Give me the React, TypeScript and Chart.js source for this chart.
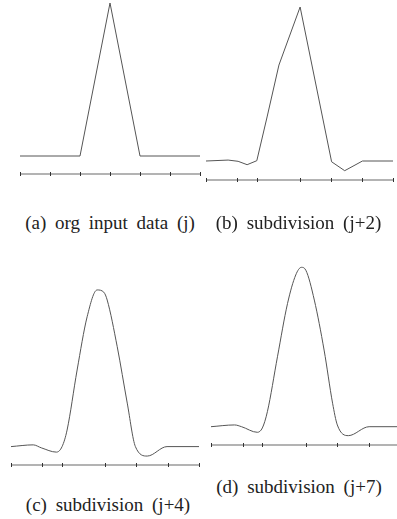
import React, { useEffect, useRef } from "react";
import { Chart, registerables } from "chart.js";
Chart.register(...registerables);

// ---- data ----
const TICKS_A = [0, 1, 2, 3, 4, 5, 6];
const TICKS_BCD = [0, 1, 1.63, 3, 4, 5, 6];

const A_X = [0, 2, 3, 4, 6];
const A_Y = [0, 0, 1, 0, 0];

const B_X = [0, 0.71, 1.03, 1.32, 1.63, 1.96, 2.34, 3.02, 4.03, 4.45, 5.02, 6];
const B_Y = [0, 0.006, -0.002, -0.024, 0.002, 0.286, 0.623, 1, -0.005, -0.063, 0, 0];

const C_X = [0, 0.71, 0.97, 1.45, 1.63, 1.79, 2.11, 2.43, 2.75, 2.96, 3.07, 3.39, 3.71, 3.97, 4.35, 4.98, 6];
const C_Y = [0, 0.011, -0.008, -0.035, 0, 0.105, 0.486, 0.824, 0.994, 0.98, 0.93, 0.634, 0.276, 0, -0.06, 0, 0];

const D_X = [0, 0.75, 0.97, 1.47, 1.63, 1.79, 2.11, 2.43, 2.69, 2.87, 3.01, 3.28, 3.59, 3.86, 4.01, 4.36, 5.02, 6];
const D_Y = [0, 0.011, 0, -0.035, -0.008, 0.094, 0.438, 0.772, 0.95, 0.998, 0.98, 0.793, 0.48, 0.147, 0.011, -0.056, 0, 0];

const CAPTIONS = [
  "(a) org input data (j)",
  "(b) subdivision (j+2)",
  "(c) subdivision (j+4)",
  "(d) subdivision (j+7)",
];

const axisPlugin = {
  id: "tickAxis",
  afterDraw(chart: any, _args: any, opts: any) {
    const { ctx, chartArea } = chart;
    const x = chart.scales.x;
    const y = chartArea.bottom;
    ctx.save();
    ctx.strokeStyle = "#9a9a9a";
    ctx.lineWidth = 1.5;
    ctx.beginPath();
    ctx.moveTo(x.getPixelForValue(x.min), y);
    ctx.lineTo(x.getPixelForValue(x.max), y);
    ctx.stroke();
    ctx.strokeStyle = "#333";
    ctx.lineWidth = 1;
    for (const t of opts.ticks || []) {
      const px = Math.round(x.getPixelForValue(t)) + 0.5;
      ctx.beginPath();
      ctx.moveTo(px, y - 2);
      ctx.lineTo(px, y + 2);
      ctx.stroke();
    }
    ctx.restore();
  },
};

type PanelProps = {
  xs: number[];
  ys: number[];
  ticks: number[];
  x0: number;
  x1: number;
  yTop: number;
  yBase: number;
  yAxis: number;
  smooth: boolean;
};

const PAD = 6;

function Panel(p: PanelProps) {
  const ref = useRef<HTMLCanvasElement>(null);
  const W = p.x1 - p.x0 + 2 * PAD;
  const H = p.yAxis - p.yTop + 2 * PAD;
  useEffect(() => {
    if (!ref.current) return;
    const yMin = -(p.yAxis - p.yBase) / (p.yBase - p.yTop);
    const chart = new Chart(ref.current, {
      type: "line",
      data: {
        datasets: [
          {
            data: p.xs.map((x, i) => ({ x, y: p.ys[i] })),
            borderColor: "#555",
            borderWidth: 1,
            pointRadius: 0,
            tension: p.smooth ? 0.4 : 0,
            cubicInterpolationMode: p.smooth ? "monotone" : "default",
            fill: false,
            clip: false as any,
          },
        ],
      },
      options: {
        animation: false,
        responsive: false,
        maintainAspectRatio: false,
        events: [],
        layout: { padding: PAD },
        plugins: {
          legend: { display: false },
          tooltip: { enabled: false },
          tickAxis: { ticks: p.ticks },
        } as any,
        scales: {
          x: { type: "linear", min: 0, max: 6, display: false },
          y: { type: "linear", min: yMin, max: 1, display: false },
        },
      },
      plugins: [axisPlugin as any],
    });
    return () => chart.destroy();
  }, []);
  return (
    <canvas
      ref={ref}
      width={W}
      height={H}
      style={{
        position: "absolute",
        left: p.x0 - PAD,
        top: p.yTop - PAD,
        width: W,
        height: H,
      }}
    />
  );
}

function Caption({ text, cx, cy }: { text: string; cx: number; cy: number }) {
  return (
    <div
      style={{
        position: "absolute",
        left: cx,
        top: cy - 11,
        transform: "translateX(-50%)",
        fontFamily: '"Liberation Serif", serif',
        fontSize: 19,
        lineHeight: "22px",
        wordSpacing: 4,
        whiteSpace: "nowrap",
        color: "#222",
      }}
    >
      {text}
    </div>
  );
}

export default function App() {
  return (
    <div
      style={{
        position: "fixed",
        left: 0,
        top: 0,
        width: 397,
        height: 519,
        overflow: "hidden",
        background: "#fff",
      }}
    >
      <Panel xs={A_X} ys={A_Y} ticks={TICKS_A} x0={20} x1={200} yTop={3} yBase={156} yAxis={174} smooth={false} />
      <Panel xs={B_X} ys={B_Y} ticks={TICKS_BCD} x0={206} x1={393} yTop={7} yBase={161} yAxis={180} smooth={false} />
      <Panel xs={C_X} ys={C_Y} ticks={TICKS_BCD} x0={11} x1={199} yTop={289} yBase={446.6} yAxis={465} smooth={true} />
      <Panel xs={D_X} ys={D_Y} ticks={TICKS_BCD} x0={211} x1={400} yTop={267} yBase={426.7} yAxis={445} smooth={true} />
      <Caption text={CAPTIONS[0]} cx={110} cy={223} />
      <Caption text={CAPTIONS[1]} cx={298.5} cy={223} />
      <Caption text={CAPTIONS[2]} cx={108} cy={505} />
      <Caption text={CAPTIONS[3]} cx={299} cy={487} />
    </div>
  );
}
